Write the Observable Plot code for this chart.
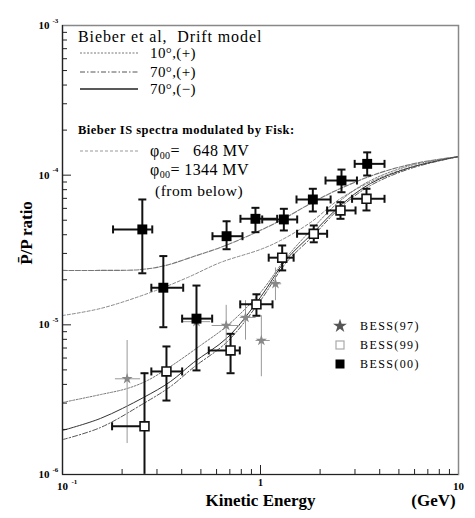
<!DOCTYPE html>
<html><head><meta charset="utf-8">
<script src="https://cdn.jsdelivr.net/npm/d3@7"></script>
<script src="https://cdn.jsdelivr.net/npm/@observablehq/plot@0.6"></script>
<style>body{margin:0;background:#fff} svg{display:block}</style>
</head><body><div id="chart"></div>
<script>
// ---------- data ----------
// BESS(00) filled squares
const bess00E    = [0.253, 0.323, 0.475, 0.674, 0.943, 1.312, 1.838, 2.565, 3.458];
const bess00R    = [4.34e-5, 1.77e-5, 1.10e-5, 3.91e-5, 5.11e-5, 5.06e-5, 6.88e-5, 9.21e-5, 1.19e-4];
const bess00Lo   = [2.21e-5, 9.64e-6, 4.96e-6, 3.20e-5, 4.16e-5, 4.27e-5, 5.72e-5, 7.69e-5, 9.95e-5];
const bess00Hi   = [6.88e-5, 2.88e-5, 1.83e-5, 4.92e-5, 6.05e-5, 5.96e-5, 8.11e-5, 1.09e-4, 1.42e-4];
const bess00Emin = [0.180, 0.281, 0.402, 0.572, 0.792, 1.02, 1.52, 2.13, 2.99];
const bess00Emax = [0.284, 0.407, 0.570, 0.811, 1.214, 1.532, 2.26, 3.07, 4.23];
// BESS(99) open squares
const bess99E    = [0.2595, 0.335, 0.706, 0.954, 1.287, 1.858, 2.535, 3.43];
const bess99R    = [2.10e-6, 4.88e-6, 6.74e-6, 1.37e-5, 2.81e-5, 4.06e-5, 5.81e-5, 6.95e-5];
const bess99Lo   = [5e-7, 3.12e-6, 4.75e-6, 1.15e-5, 2.31e-5, 3.56e-5, 5.11e-5, 5.81e-5];
const bess99Hi   = [4.75e-6, 7.17e-6, 8.71e-6, 1.60e-5, 3.39e-5, 4.61e-5, 6.60e-5, 8.11e-5];
const bess99Emin = [0.178, 0.281, 0.548, 0.79, 1.10, 1.53, 2.17, 2.90];
const bess99Emax = [0.2595, 0.402, 0.786, 1.15, 1.47, 2.17, 3.02, 4.23];
// BESS(97) stars
const bess97E    = [0.212, 0.475, 0.671, 0.84, 1.01, 1.19];
const bess97R    = [4.36e-6, 1.05e-5, 9.9e-6, 1.12e-5, 7.86e-6, 1.88e-5];
const bess97Lo   = [1.61e-6, 6.5e-6, 6.9e-6, 7.9e-6, 4.5e-6, 1.45e-5];
const bess97Hi   = [7.86e-6, 1.45e-5, 1.35e-5, 1.45e-5, 1.15e-5, 2.4e-5];
const bess97Emin = [0.185, 0.40, 0.57, 0.79, 0.95, 1.12];
const bess97Emax = [0.248, 0.56, 0.79, 0.95, 1.12, 1.28];

// model curves
const fisk1344E = [0.1, 0.1556, 0.2477, 0.331, 0.4588, 0.628, 0.922, 1.262, 1.789, 2.535, 4.036, 6.43, 10];
const fisk1344R = [2.31e-5, 2.31e-5, 2.34e-5, 2.49e-5, 2.86e-5, 3.29e-5, 4.08e-5, 4.98e-5, 6.47e-5, 8.15e-5, 1.04e-4, 1.22e-4, 1.33e-4];
const fisk648E  = [0.1, 0.1556, 0.2783, 0.4279, 0.628, 1.0, 1.262, 1.789, 2.535, 4.036, 6.43, 10];
const fisk648R  = [1.154e-5, 1.286e-5, 1.645e-5, 2.07e-5, 2.61e-5, 3.19e-5, 3.66e-5, 4.83e-5, 6.98e-5, 9.65e-5, 1.178e-4, 1.33e-4];
const drift10pE = [0.1, 0.1556, 0.2130, 0.2687, 0.3511, 0.4977, 0.6813, 1.0, 1.337, 1.830, 2.535, 3.594, 5.722, 10];
const drift10pR = [3.03e-6, 3.42e-6, 3.76e-6, 4.25e-6, 5.27e-6, 7.28e-6, 9.90e-6, 1.645e-5, 2.77e-5, 4.40e-5, 6.77e-5, 9.21e-5, 1.16e-4, 1.33e-4];
const drift70E  = [0.1, 0.1556, 0.2565, 0.3511, 0.4588, 0.6813, 1.0, 1.337, 1.830, 2.535, 3.594, 5.722, 10];
const drift70mR = [1.97e-6, 2.37e-6, 3.27e-6, 4.18e-6, 5.6e-6, 8.23e-6, 1.53e-5, 2.69e-5, 4.08e-5, 6.27e-5, 8.80e-5, 1.125e-4, 1.33e-4];
const drift70pR = [1.71e-6, 2.06e-6, 2.98e-6, 3.87e-6, 5.19e-6, 7.74e-6, 1.454e-5, 2.57e-5, 3.89e-5, 6.08e-5, 8.53e-5, 1.108e-4, 1.33e-4];

// axis ticks and labels
const xMajor = [0.1, 1, 10];
const xMinor = [0.2,0.3,0.4,0.5,0.6,0.7,0.8,0.9,2,3,4,5,6,7,8,9];
const xTickBase = ["10", "1", "10"];
const xTickExp  = ["-1", "", ""];
const yMajor = [1e-6, 1e-5, 1e-4, 1e-3];
const yTickExp = ["-6", "-5", "-4", "-3"];
const yMinor = [1e-6,1e-5,1e-4].flatMap(b => [2,3,4,5,6,7,8,9].map(k => k*b));

const xTitle = "Kinetic Energy", xUnit = "(GeV)", yTitle = "P\u0304/P ratio";
const legendHead1 = "Bieber et al,  Drift model";
const legendDrift = ["10\u00b0,(+)", "70\u00b0,(+)", "70\u00b0,(\u2212)"];
const legendHead2 = "Bieber IS spectra modulated by Fisk:";
const legendFisk = ["648 MV", "1344 MV"];
const legendFisk3 = "(from below)";
const legendBess = ["BESS(97)", "BESS(99)", "BESS(00)"];

// ---------- build ----------
const rows = (E, R, Lo, Hi, E0, E1) => E.map((e, i) => ({e, r: R[i], lo: Lo[i], hi: Hi[i], e0: E0[i], e1: E1[i]}));
const curve = (E, R) => E.map((e, i) => ({e, r: R[i]}));
const b00 = rows(bess00E, bess00R, bess00Lo, bess00Hi, bess00Emin, bess00Emax);
const b99 = rows(bess99E, bess99R, bess99Lo, bess99Hi, bess99Emin, bess99Emax);
const b97 = rows(bess97E, bess97R, bess97Lo, bess97Hi, bess97Emin, bess97Emax);

const capH = {draw(c){ c.moveTo(-4,0); c.lineTo(4,0); }};
const capV = {draw(c){ c.moveTo(0,-4); c.lineTo(0,4); }};
function errs(d, color, sw, caps) {
  const m = [
    Plot.ruleX(d, {x:"e", y1:"lo", y2:"hi", stroke: color, strokeWidth: sw, clip: true}),
    Plot.ruleY(d, {y:"r", x1:"e0", x2:"e1", stroke: color, strokeWidth: sw, clip: true})
  ];
  if (caps) m.push(
    Plot.dot(d.filter(v => v.hi < 1e-3), {x:"e", y:"hi", symbol: capH, stroke: color, strokeWidth: sw, fill:"none"}),
    Plot.dot(d.filter(v => v.lo > 1e-6), {x:"e", y:"lo", symbol: capH, stroke: color, strokeWidth: sw, fill:"none"}),
    Plot.dot(d.filter(v => v.e0 < v.e), {x:"e0", y:"r", symbol: capV, stroke: color, strokeWidth: sw, fill:"none"}),
    Plot.dot(d.filter(v => v.e1 > v.e), {x:"e1", y:"r", symbol: capV, stroke: color, strokeWidth: sw, fill:"none"})
  );
  return m;
}

const serif = "'Liberation Serif', 'DejaVu Serif', serif";
const FW = 396, FH = 449; // frame size used only for tick length insets

function legend(index, scales, values, dims) {
  const g = d3.create("svg:g").attr("font-family", serif).attr("fill", "black").attr("text-anchor", "start");
  const L = dims.marginLeft; // 62
  g.append("text").attr("x", L + 16).attr("y", 42).attr("font-size", 16).attr("letter-spacing", 0.9).text(legendHead1);
  const styles = [
    {dash: "2,1.5", stroke: "#777", w: 1},
    {dash: "5,2,1.5,2", stroke: "#555", w: 1},
    {dash: null, stroke: "#222", w: 1.4}
  ];
  [53, 72, 89].forEach((y, i) => {
    const ln = g.append("line").attr("x1", L + 18).attr("x2", L + 76).attr("y1", y).attr("y2", y)
      .attr("stroke", styles[i].stroke).attr("stroke-width", styles[i].w);
    if (styles[i].dash) ln.attr("stroke-dasharray", styles[i].dash);
    g.append("text").attr("x", L + 88).attr("y", y + 5).attr("font-size", 15).attr("letter-spacing", 0.4).text(legendDrift[i]);
  });
  g.append("text").attr("x", L + 16).attr("y", 134).attr("font-size", 12.5).attr("font-weight", "bold")
    .attr("letter-spacing", 0.5).text(legendHead2);
  g.append("line").attr("x1", L + 18).attr("x2", L + 76).attr("y1", 151).attr("y2", 151)
    .attr("stroke", "#999").attr("stroke-width", 1).attr("stroke-dasharray", "3,2");
  [156, 175].forEach((y, i) => {
    const t = g.append("text").attr("x", L + 88).attr("y", y).attr("font-size", 16).attr("letter-spacing", 0.4);
    t.append("tspan").text("\u03c6");
    t.append("tspan").attr("font-size", 10).attr("dy", 3).text("00");
    t.append("tspan").attr("dy", -3).text("= " + (i === 0 ? "  " : "") + legendFisk[i]);
  });
  g.append("text").attr("x", L + 93).attr("y", 196).attr("font-size", 15.5).attr("letter-spacing", 0.5).text(legendFisk3);
  // BESS legend
  const sx = 340, sy = [326, 345, 364];
  const star = d3.symbol(d3.symbolStar, 60)();
  g.append("path").attr("d", star).attr("transform", `translate(${sx},${sy[0]})`).attr("fill", "#555");
  g.append("rect").attr("x", sx - 4).attr("y", sy[1] - 4).attr("width", 8).attr("height", 8)
    .attr("fill", "white").attr("stroke", "#aaa").attr("stroke-width", 1.2);
  g.append("rect").attr("x", sx - 4.5).attr("y", sy[2] - 4.5).attr("width", 9).attr("height", 9).attr("fill", "black");
  sy.forEach((y, i) => g.append("text").attr("x", sx + 20).attr("y", y + 4).attr("font-size", 12)
    .attr("letter-spacing", 1.4).text(legendBess[i]));
  return g.node();
}

const chart = Plot.plot({
  width: 475, height: 518,
  marginLeft: 62, marginRight: 17, marginTop: 25, marginBottom: 44,
  style: {fontFamily: serif, background: "white"},
  x: {type: "log", domain: [0.1, 10], axis: null},
  y: {type: "log", domain: [1e-6, 1e-3], axis: null},
  marks: [
    // curves
    Plot.line(curve(fisk1344E, fisk1344R), {x:"e", y:"r", stroke:"#777", strokeWidth:1.1, strokeDasharray:"5,1.5", curve:"catmull-rom"}),
    Plot.line(curve(fisk648E, fisk648R), {x:"e", y:"r", stroke:"#888", strokeWidth:1, strokeDasharray:"3,2", curve:"catmull-rom"}),
    Plot.line(curve(drift10pE, drift10pR), {x:"e", y:"r", stroke:"#777", strokeWidth:1, strokeDasharray:"2,1.5", curve:"catmull-rom"}),
    Plot.line(curve(drift70E, drift70mR), {x:"e", y:"r", stroke:"#333", strokeWidth:1, curve:"catmull-rom"}),
    Plot.line(curve(drift70E, drift70pR), {x:"e", y:"r", stroke:"#555", strokeWidth:1, strokeDasharray:"5,2,1.5,2", curve:"catmull-rom"}),
    // BESS97
    ...errs(b97, "#999", 1, false),
    Plot.dot(b97, {x:"e", y:"r", symbol:"star", r:3.5, fill:"#888"}),
    // BESS99
    ...errs(b99, "#111", 2, true),
    Plot.dot(b99, {x:"e", y:"r", symbol:"square", r:5, fill:"white", stroke:"#111", strokeWidth:1.6}),
    // BESS00
    ...errs(b00, "#111", 2, true),
    Plot.dot(b00, {x:"e", y:"r", symbol:"square", r:5.6, fill:"#000"}),
    // frame and ticks
    Plot.frame({stroke:"#888", strokeWidth:1.5}),
    Plot.ruleX([0.1], {stroke:"#222", strokeWidth:1.2}),
    Plot.ruleY([1e-6], {stroke:"#222", strokeWidth:1.2}),
    Plot.tickX(xMajor.slice(1, 2), {x: d => d, insetTop: FH - 9, stroke:"#222"}),
    Plot.tickX(xMinor, {x: d => d, insetTop: FH - 5, stroke:"#222"}),
    Plot.tickY(yMajor.slice(1, 3), {y: d => d, insetRight: FW - 9, stroke:"#222"}),
    Plot.tickY(yMinor, {y: d => d, insetRight: FW - 5, stroke:"#222"}),
    // tick labels
    Plot.text(yMajor, {y: d => d, frameAnchor:"left", dx:-13, text: () => "10", textAnchor:"end", fontSize:11, fontWeight:"bold"}),
    Plot.text(yMajor, {y: d => d, frameAnchor:"left", dx:-10, dy:-5, text: (d, i) => yTickExp[i], textAnchor:"start", fontSize:7, fontWeight:"bold"}),
    Plot.text(xMajor.filter((d, i) => i !== 1), {x: d => d, frameAnchor:"bottom", dy: 15, text: (d, i) => xTickBase[i === 0 ? 0 : 2], textAnchor:"middle", fontSize:11, fontWeight:"bold"}),
    Plot.text(xMajor.slice(1, 2), {x: d => d, frameAnchor:"bottom", dy: 11, text: () => xTickBase[1], textAnchor:"middle", fontSize:10, fontWeight:"bold"}),
    Plot.text(xMajor.slice(0, 1), {x: d => d, frameAnchor:"bottom", dx: 9, dy: 9, text: () => xTickExp[0], textAnchor:"start", fontSize:7, fontWeight:"bold"}),
    // titles
    Plot.text([xTitle], {frameAnchor:"bottom", dy: 31, text: d => d, fontSize:17, fontWeight:"bold"}),
    Plot.text([xUnit], {frameAnchor:"bottom-right", dx: -25, dy: 31, text: d => d, textAnchor:"middle", fontSize:17, fontWeight:"bold"}),
    Plot.text([yTitle], {frameAnchor:"left", dx: -36, dy: -17, rotate: -90, text: d => d, textAnchor:"middle", fontSize:17, fontWeight:"bold"}),
    legend
  ]
});
document.getElementById("chart").append(chart);
</script>
</body></html>
